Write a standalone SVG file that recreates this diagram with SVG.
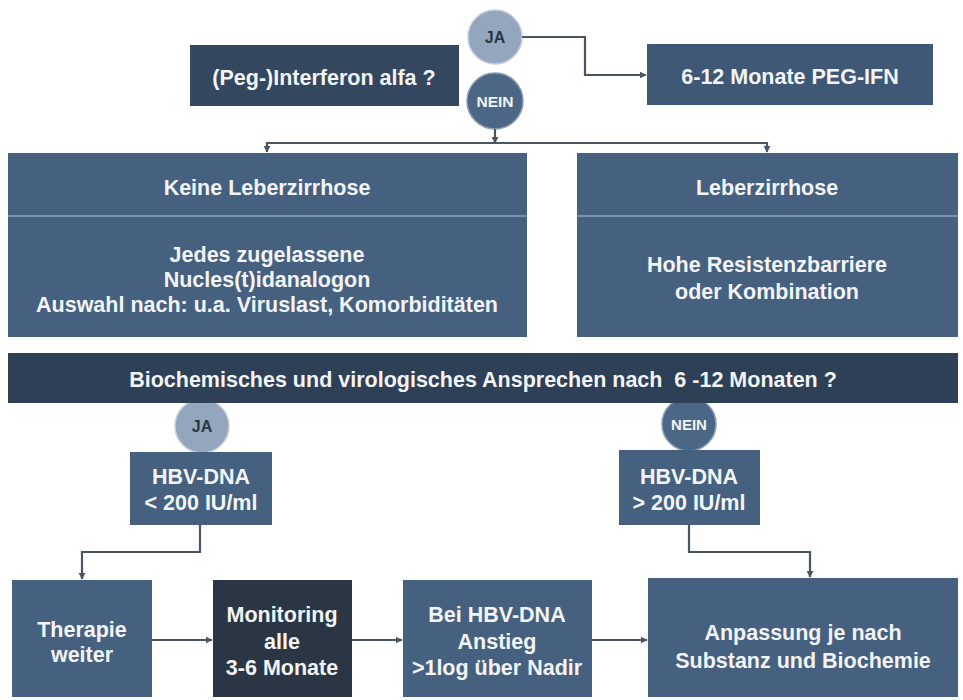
<svg xmlns="http://www.w3.org/2000/svg" width="963" height="700" viewBox="0 0 963 700">
<style>
.t{font-family:"Liberation Sans",Arial,sans-serif;font-weight:bold;font-size:21.5px;fill:#f2f4f7;text-anchor:middle}
.ct{font-family:"Liberation Sans",Arial,sans-serif;font-weight:bold;text-anchor:middle}
.box{fill:#46617f}
.dark{fill:#33475e}
.bar{fill:#2e4055}
.mon{fill:#2b3644}
.ja{fill:#93a6be;stroke:#c5cfdb;stroke-width:1.5}
.nein{fill:#4c6786;stroke:#8a9db5;stroke-width:1.5}
.div{stroke:#8ea3bb;stroke-width:1.5}
.c{fill:none;stroke:#4b5562;stroke-width:2.2;marker-end:url(#ah)}
</style>
<defs>
<marker id="ah" viewBox="0 0 10 10" refX="9" refY="5" markerWidth="3.2" markerHeight="3.2" orient="auto" markerUnits="strokeWidth">
<path d="M0,0 L10,5 L0,10 z" fill="#4b5562"/>
</marker>
</defs>
<rect width="963" height="700" fill="#ffffff"/>

<g id="circles">
<g id="ja1"><circle class="ja" cx="495" cy="37" r="27"/><text class="ct" x="495" y="43" font-size="16" fill="#2b3644">JA</text></g>
<g id="nein1"><circle class="nein" cx="495" cy="101" r="28"/><text class="ct" x="495" y="107" font-size="15.5" fill="#f2f4f7">NEIN</text></g>
<g id="ja2"><circle class="ja" cx="202" cy="426" r="27"/><text class="ct" x="202" y="432" font-size="16" fill="#2b3644">JA</text></g>
<g id="nein2"><circle class="nein" cx="689" cy="424" r="27"/><text class="ct" x="689" y="430" font-size="15" fill="#f2f4f7">NEIN</text></g>
</g>

<g id="connectors">
<path class="c" d="M522,37 H585 V75 H646"/>
<path class="c" d="M495,129 V143"/>
<path class="c" d="M495,143 H267 V152"/>
<path class="c" d="M495,143 H767 V152"/>
<path class="c" d="M200,525 V552 H82 V579"/>
<path class="c" d="M689,525 V552 H810 V577"/>
<path class="c" d="M152,640 H212"/>
<path class="c" d="M352,640 H402"/>
<path class="c" d="M592,640 H647"/>
</g>

<g id="interferon"><rect class="dark" x="190" y="45" width="269" height="61"/><text class="t" x="324" y="85">(Peg-)Interferon alfa ?</text></g>
<g id="pegifn"><rect fill="#3e5876" x="647" y="44" width="286" height="61"/><text class="t" x="790" y="84">6-12 Monate PEG-IFN</text></g>

<g id="keine">
<rect class="box" x="8" y="153" width="519" height="184"/>
<line class="div" x1="8" y1="216" x2="527" y2="216"/>
<text class="t" x="267" y="195">Keine Leberzirrhose</text>
<text class="t" x="267" y="262">Jedes zugelassene</text>
<text class="t" x="267" y="287">Nucles(t)idanalogon</text>
<text class="t" x="267" y="312">Auswahl nach: u.a. Viruslast, Komorbiditäten</text>
</g>
<g id="leber">
<rect class="box" x="577" y="153" width="381" height="184"/>
<line class="div" x1="577" y1="216" x2="958" y2="216"/>
<text class="t" x="767" y="195">Leberzirrhose</text>
<text class="t" x="767" y="272">Hohe Resistenzbarriere</text>
<text class="t" x="767" y="299">oder Kombination</text>
</g>

<g id="bar"><rect class="bar" x="8" y="353" width="950" height="50"/><text class="t" x="483" y="387" font-size="22">Biochemisches und virologisches Ansprechen nach &#160;6 -12 Monaten ?</text></g>

<g id="hbv1"><rect class="box" x="130" y="452" width="142" height="73"/><text class="t" x="201" y="484">HBV-DNA</text><text class="t" x="201" y="510">&lt; 200 IU/ml</text></g>
<g id="hbv2"><rect class="box" x="619" y="450" width="141" height="75"/><text class="t" x="689" y="484">HBV-DNA</text><text class="t" x="689" y="510">&gt; 200 IU/ml</text></g>

<g id="therapie"><rect class="box" x="12" y="580" width="140" height="117"/><text class="t" x="82" y="637">Therapie</text><text class="t" x="82" y="662">weiter</text></g>
<g id="monitoring"><rect class="mon" x="213" y="580" width="139" height="117"/><text class="t" x="282" y="622">Monitoring</text><text class="t" x="282" y="649">alle</text><text class="t" x="282" y="675">3-6 Monate</text></g>
<g id="anstieg"><rect class="box" x="403" y="580" width="189" height="117"/><text class="t" x="497" y="622">Bei HBV-DNA</text><text class="t" x="497" y="649">Anstieg</text><text class="t" x="497" y="675">&gt;1log über Nadir</text></g>
<g id="anpassung"><rect class="box" x="648" y="578" width="310" height="119"/><text class="t" x="803" y="640">Anpassung je nach</text><text class="t" x="803" y="668">Substanz und Biochemie</text></g>
</svg>
